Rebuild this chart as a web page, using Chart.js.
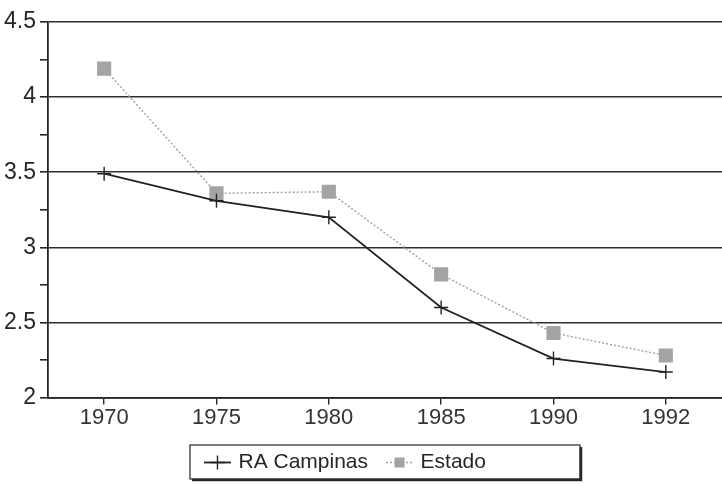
<!DOCTYPE html>
<html>
<head>
<meta charset="utf-8">
<script src="https://cdn.jsdelivr.net/npm/chart.js@4"></script>
<style>
    html, body { margin: 0; padding: 0; background: #fff; }
    #wrap { width: 722px; height: 485px; position: relative; }
</style>
</head>
<body>
<div id="wrap"><canvas id="chart"></canvas></div>
<script>
const years = ['1970', '1975', '1980', '1985', '1990', '1992'];
const raCampinas = [3.49, 3.31, 3.20, 2.60, 2.26, 2.17];
const estado = [4.19, 3.36, 3.37, 2.82, 2.43, 2.28];
const yMin = 2;
const yMax = 4.5;

const ink = '#262626';
const FONT = 'Liberation Sans';

// legend frame is centred under the plot, items sit at its left side
const LEGEND_BOX_W = 390;
const LEGEND_INSET = 17;

const isHalf = (v) => Math.abs(v * 2 - Math.round(v * 2)) < 1e-6;

const legendBox = {
    id: 'legendBox',
    afterLayout(chart) {
        const lg = chart.legend;
        const ca = chart.chartArea;
        const pad = lg.options.labels.padding;
        const w = lg.right - lg.left;
        lg._boxLeft = (ca.left + ca.right) / 2 - LEGEND_BOX_W / 2;
        lg.left = lg._boxLeft + LEGEND_INSET - pad;
        lg.right = lg.left + w;
    },
    afterDraw(chart) {
        const lg = chart.legend;
        const boxes = lg.legendHitBoxes;
        if (!boxes || !boxes.length) return;
        const ctx = chart.ctx;
        const left = lg._boxLeft;
        const right = left + LEGEND_BOX_W;
        const top = boxes[0].top - 7;
        const bottom = boxes[0].top + boxes[0].height + 6;
        ctx.save();
        ctx.strokeStyle = ink;
        ctx.lineWidth = 1.2;
        ctx.strokeRect(left, top, right - left, bottom - top);
        ctx.lineWidth = 2.5;
        ctx.beginPath();
        ctx.moveTo(right + 1, top + 2);
        ctx.lineTo(right + 1, bottom + 1);
        ctx.lineTo(left + 2, bottom + 1);
        ctx.stroke();

        // short line through each legend marker
        lg.legendItems.forEach((item, i) => {
            const b = boxes[i];
            const cy = b.top + b.height / 2;
            const ds = chart.data.datasets[i];
            ctx.strokeStyle = ds.borderColor;
            ctx.lineWidth = ds.borderWidth;
            ctx.setLineDash(ds.borderDash || []);
            ctx.beginPath();
            ctx.moveTo(b.left - 3, cy);
            ctx.lineTo(b.left + 24, cy);
            ctx.stroke();
        });
        ctx.restore();
    }
};

new Chart(document.getElementById('chart'), {
    type: 'line',
    data: {
        labels: years,
        datasets: [{
            label: 'RA Campinas',
            data: raCampinas,
            borderColor: '#222',
            backgroundColor: '#222',
            borderWidth: 1.8,
            pointStyle: 'cross',
            pointRadius: 7,
            pointBorderWidth: 1.4,
            tension: 0
        }, {
            label: 'Estado',
            data: estado,
            borderColor: '#a0a0a0',
            backgroundColor: '#a4a4a4',
            borderWidth: 1.4,
            borderDash: [2, 2],
            pointStyle: 'rect',
            pointRadius: 10,
            pointBorderWidth: 0,
            tension: 0
        }]
    },
    options: {
        responsive: true,
        maintainAspectRatio: false,
        animation: false,
        layout: { autoPadding: false, padding: { top: 22, right: 0, left: 0, bottom: 2 } },
        plugins: {
            tooltip: { enabled: false },
            legend: {
                position: 'bottom',
                align: 'start',
                labels: {
                    usePointStyle: true,
                    boxWidth: 21,
                    boxHeight: 10,
                    padding: 21,
                    color: ink,
                    font: { family: FONT, size: 21 }
                }
            }
        },
        scales: {
            x: {
                offset: true,
                grid: {
                    drawOnChartArea: false,
                    tickLength: 7,
                    color: ink,
                    lineWidth: 1.4
                },
                border: { color: ink, width: 1.8 },
                ticks: {
                    color: '#333',
                    padding: 0,
                    font: { family: FONT, size: 22 }
                }
            },
            y: {
                min: yMin,
                max: yMax,
                grid: {
                    color: (c) => (c.tick && isHalf(c.tick.value)) ? '#2e2e2e' : 'rgba(0,0,0,0)',
                    tickColor: ink,
                    lineWidth: 1.6,
                    tickLength: 8
                },
                border: { color: ink, width: 1.8 },
                ticks: {
                    stepSize: 0.25,
                    autoSkip: false,
                    color: ink,
                    padding: 4,
                    font: { family: FONT, size: 23 },
                    callback: (v) => isHalf(v) ? String(v) : ''
                }
            }
        }
    },
    plugins: [legendBox]
});
</script>
</body>
</html>
